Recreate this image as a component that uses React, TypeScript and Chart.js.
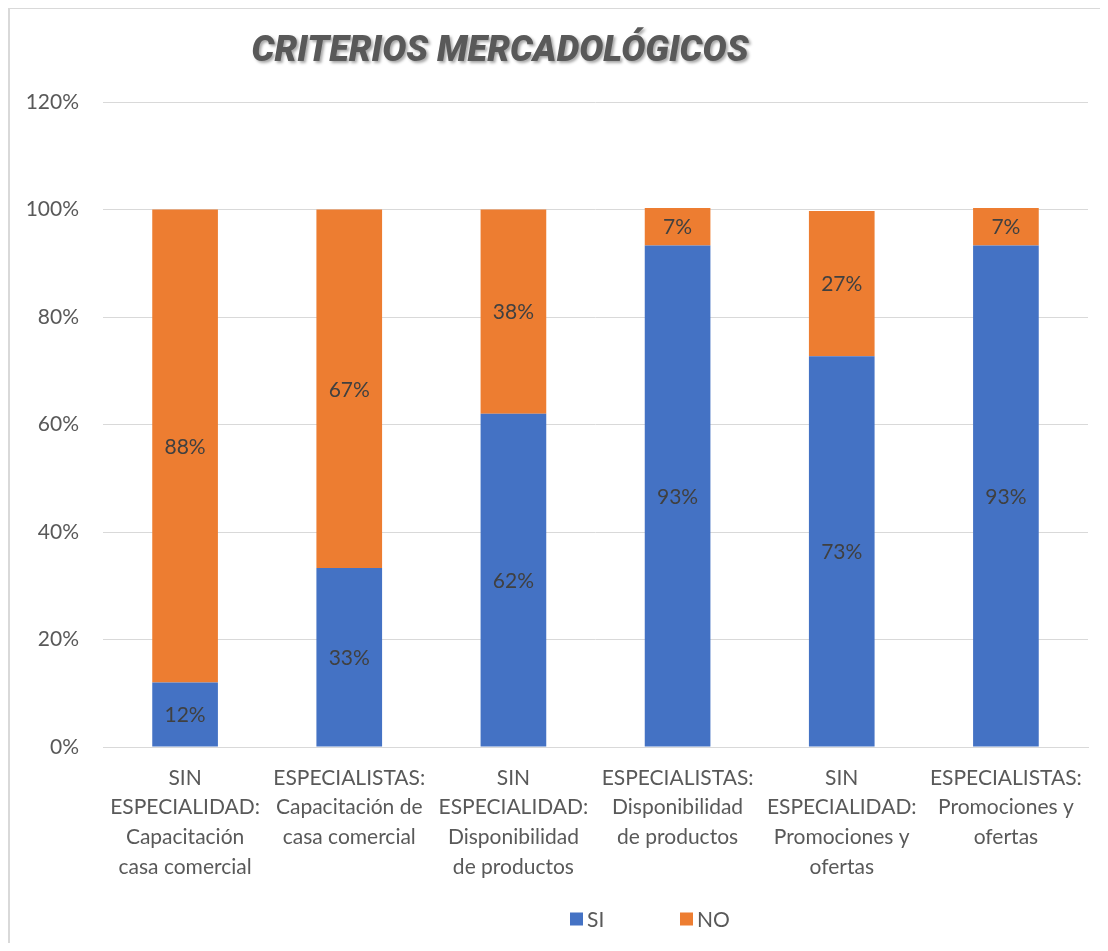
import React, { useEffect, useRef } from "react";
import { Chart, registerables } from "chart.js";

Chart.register(...registerables);

const chartTitle = "CRITERIOS MERCADOLÓGICOS";
const categories: string[][] = [
  ["SIN", "ESPECIALIDAD:", "Capacitación", "casa comercial"],
  ["ESPECIALISTAS:", "Capacitación de", "casa comercial"],
  ["SIN", "ESPECIALIDAD:", "Disponibilidad", "de productos"],
  ["ESPECIALISTAS:", "Disponibilidad", "de productos"],
  ["SIN", "ESPECIALIDAD:", "Promociones y", "ofertas"],
  ["ESPECIALISTAS:", "Promociones y", "ofertas"],
];
const seriesNames = ["SI", "NO"];
const siValues = [12, 33.3, 62, 93.3, 72.7, 93.3];
const noValues = [88, 66.7, 38, 7, 27, 7];
const yMin = 0;
const yMax = 120;
const yStep = 20;

const BLUE = "#4472C4";
const ORANGE = "#ED7D31";
const FONT = "Lato, 'Open Sans', sans-serif";

const dataLabelPlugin = {
  id: "dataLabels",
  afterDatasetsDraw(chart: any) {
    const ctx = chart.ctx;
    ctx.save();
    ctx.font = `21px ${FONT}`;
    ctx.fillStyle = "#404040";
    ctx.textAlign = "center";
    ctx.textBaseline = "middle";
    chart.data.datasets.forEach((ds: any, di: number) => {
      const meta = chart.getDatasetMeta(di);
      meta.data.forEach((el: any, i: number) => {
        const p = el.getCenterPoint();
        ctx.fillText(Math.round(ds.data[i]) + "%", p.x, p.y + 1);
      });
    });
    ctx.restore();
  },
};

const titlePlugin = {
  id: "customTitle",
  afterDraw(chart: any) {
    const ctx = chart.ctx;
    ctx.save();
    ctx.font = `italic 900 36px Roboto, sans-serif`;
    ctx.textAlign = "center";
    ctx.textBaseline = "middle";
    ctx.shadowColor = "rgba(0,0,0,0.35)";
    ctx.shadowOffsetX = 2;
    ctx.shadowOffsetY = 2;
    ctx.shadowBlur = 3;
    ctx.fillStyle = "#595959";
    ctx.fillText(chartTitle, 492, 44);
    ctx.restore();
  },
};

const legendPlugin = {
  id: "customLegend",
  afterDraw(chart: any) {
    const ctx = chart.ctx;
    const xs = [562, 672];
    const y = 911;
    ctx.save();
    ctx.font = `21px ${FONT}`;
    ctx.textBaseline = "middle";
    ctx.textAlign = "left";
    chart.data.datasets.forEach((ds: any, i: number) => {
      ctx.fillStyle = ds.backgroundColor;
      ctx.fillRect(xs[i], y - 6.5, 13, 13);
      ctx.fillStyle = "#595959";
      ctx.fillText(ds.label, xs[i] + 17, y + 1);
    });
    ctx.restore();
  },
};

export default function App() {
  const canvasRef = useRef<HTMLCanvasElement | null>(null);

  useEffect(() => {
    if (!canvasRef.current) return;
    const chart = new Chart(canvasRef.current, {
      type: "bar",
      data: {
        labels: categories,
        datasets: [
          { label: seriesNames[0], data: siValues, backgroundColor: BLUE, borderWidth: 0 },
          { label: seriesNames[1], data: noValues, backgroundColor: ORANGE, borderWidth: 0 },
        ],
      },
      options: {
        animation: false,
        responsive: true,
        maintainAspectRatio: false,
        layout: { padding: { left: 0, right: 20, top: 94, bottom: 0 } },
        datasets: { bar: { barPercentage: 0.4, categoryPercentage: 1 } },
        plugins: {
          legend: { display: false },
          title: { display: false },
          tooltip: { enabled: false },
        },
        scales: {
          x: {
            stacked: true,
            grid: { display: false, drawTicks: false },
            border: { display: true, color: "#d9d9d9", width: 1 },
            ticks: {
              color: "#595959",
              font: { family: FONT, size: 21, lineHeight: 1.42 },
              padding: 16,
              maxRotation: 0,
              autoSkip: false,
            },
            afterFit(scale: any) {
              scale.height = 196;
            },
          },
          y: {
            stacked: true,
            min: yMin,
            max: yMax,
            grid: { color: "#d9d9d9", lineWidth: 1, drawTicks: false },
            border: { display: false },
            ticks: {
              stepSize: yStep,
              color: "#595959",
              font: { family: FONT, size: 21 },
              padding: 24,
              callback: (v: any) => v + "%",
            },
            afterFit(scale: any) {
              scale.width = 95;
            },
          },
        },
      },
      plugins: [dataLabelPlugin, titlePlugin, legendPlugin],
    });
    return () => chart.destroy();
  }, []);

  return (
    <div style={{ position: "relative", width: 1100, height: 935, background: "#fff" }}>
      <canvas ref={canvasRef} />
      <div
        style={{
          position: "absolute",
          left: 0,
          top: -1,
          right: 0,
          bottom: 0,
          borderLeft: "2px solid #d9d9d9",
          borderTop: "2px solid #d9d9d9",
          pointerEvents: "none",
        }}
      />
    </div>
  );
}
